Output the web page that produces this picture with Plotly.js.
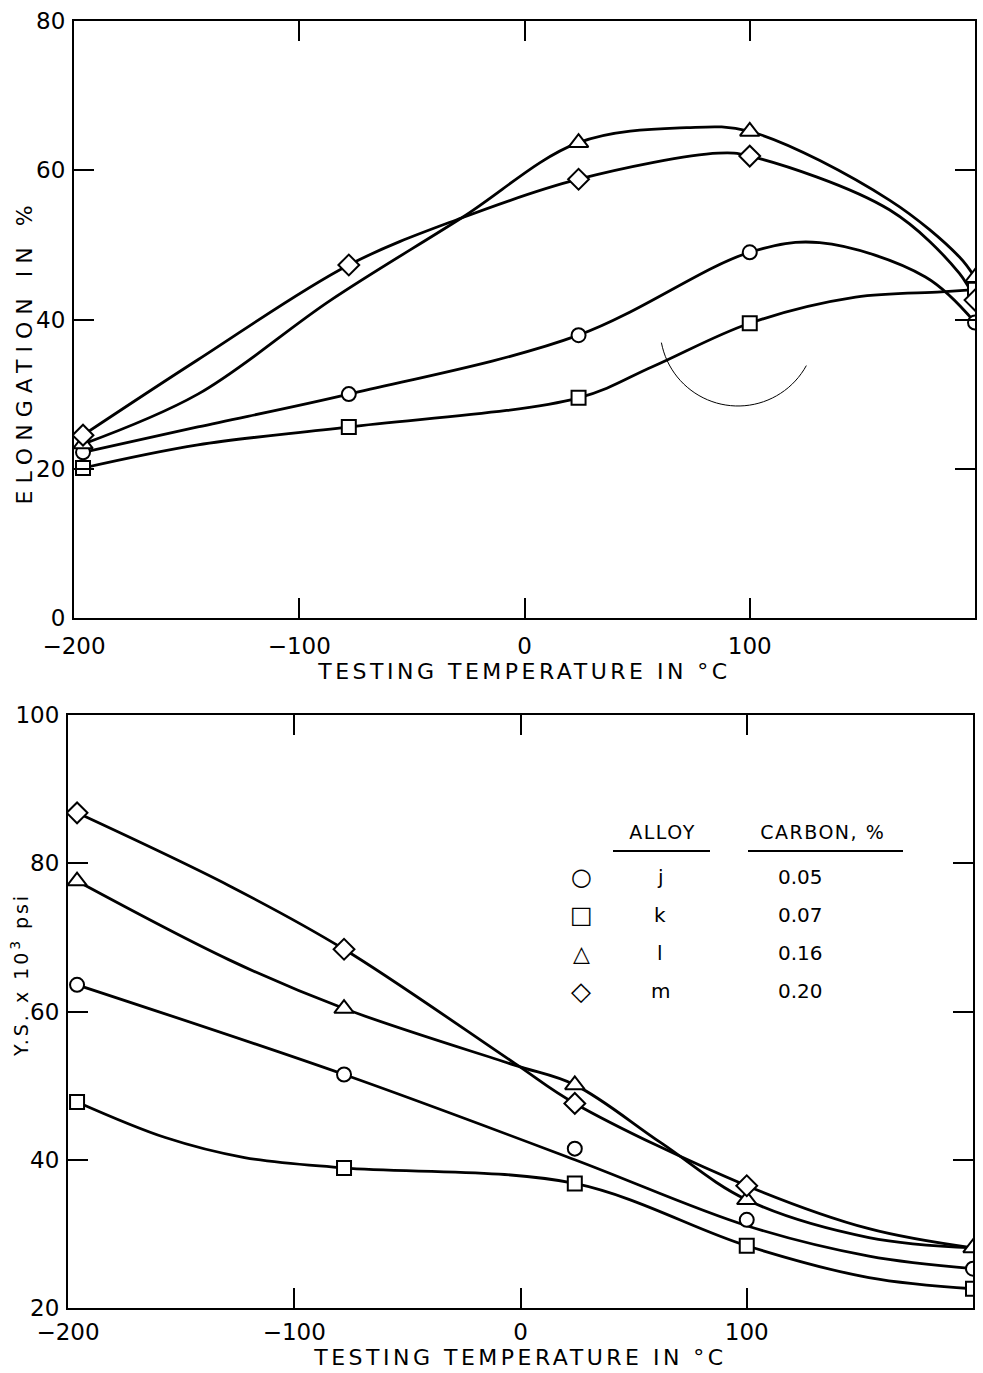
<!DOCTYPE html>
<html>
<head>
<meta charset="utf-8">
<script src="https://cdn.plot.ly/plotly-3.0.1.min.js"></script>
<style>
  html, body { margin: 0; padding: 0; background: #fff; }
  #chart { width: 983px; height: 1373px; }
  .xtitle, .x2title { letter-spacing: 3.5px; }
</style>
</head>
<body>
<div id="chart"></div>
<script>
// ---------- data: test temperatures (°C) ----------
const temps = [-196, -78, 24, 100, 200];
const tempsL = [-196, 24, 100, 200];
const tempsM_ys = [-196, -78, 24, 100];

// ---------- top panel: elongation in % (markers) ----------
const elongJ = [22.2, 30.0, 37.9, 49.0, 39.6];
const elongK = [20.1, 25.6, 29.5, 39.5, 44.0];
const elongL = [23.3, 63.7, 65.2, 45.6];
const elongM = [24.5, 47.3, 58.8, 61.9, 42.6];

// ---------- top panel: drawn fitting curves ----------
const elongCurveJx = [-196, -145, -78, 24, 100, 131, 178, 200];
const elongCurveJy = [22.2, 25.6, 30.0, 37.9, 49.0, 50.3, 45.7, 39.6];
const elongCurveKx = [-196, -145, -78, 24, 57, 100, 147, 185, 200];
const elongCurveKy = [20.1, 23.2, 25.6, 29.5, 33.7, 39.5, 43.0, 43.7, 44.0];
const elongCurveLx = [-196, -145, -86, -28, 24, 72, 100, 162, 193, 200];
const elongCurveLy = [23.3, 30.0, 42.6, 53.6, 63.7, 65.7, 65.2, 56.0, 48.4, 45.6];
const elongCurveMx = [-196, -145, -78, -28, 24, 86, 100, 162, 193, 200];
const elongCurveMy = [24.5, 34.6, 47.3, 53.6, 58.8, 62.3, 61.9, 54.7, 46.2, 42.6];

// ---------- bottom panel: Y.S. x 10^3 psi (markers) ----------
const ysJ = [63.6, 51.5, 41.5, 31.9, 25.3];
const ysK = [47.8, 38.9, 36.8, 28.4, 22.6];
const ysL = [77.6, 60.4, 50.1, 34.6, 28.1];
const ysM = [86.8, 68.4, 47.6, 36.5];

// ---------- bottom panel: drawn fitting curves ----------
const ysCurveJx = [-196, -78, 24, 100, 154, 200];
const ysCurveJy = [63.6, 51.5, 40.0, 31.1, 27.0, 25.3];
const ysCurveKx = [-196, -157, -122, -78, 24, 100, 154, 200];
const ysCurveKy = [47.8, 43.0, 40.3, 38.9, 36.8, 28.4, 24.1, 22.6];
const ysCurveLx = [-196, -129, -78, -3, 24, 62, 100, 154, 200];
const ysCurveLy = [77.6, 67.0, 60.4, 52.8, 50.1, 42.3, 34.6, 29.5, 28.1];
const ysCurveMx = [-196, -129, -78, -3, 24, 100, 154, 200];
const ysCurveMy = [86.8, 77.0, 68.4, 53.1, 47.6, 36.5, 30.7, 28.1];

// ---------- legend table ----------
const alloys = ['j', 'k', 'l', 'm'];
const carbon = ['0.05', '0.07', '0.16', '0.20'];
const legendSymbols = ['○', '□', '△', '◇'];
const markerSymbols = ['circle', 'square', 'triangle-up', 'diamond'];

// tick labels
const xTicks = [-200, -100, 0, 100, 200];
const xTickText = ['−200', '−100', '0', '100', '200'];
const yTopTicks = [0, 20, 40, 60, 80];
const yBotTicks = [20, 40, 60, 80, 100];

const FONT = 'DejaVu Sans, Liberation Sans, sans-serif';
const lineStyle = {color: '#000', width: 2.8, shape: 'spline', smoothing: 1};

function curve(x, y, xa, ya) {
  return {x: x, y: y, xaxis: xa, yaxis: ya, mode: 'lines', line: lineStyle,
          hoverinfo: 'skip', showlegend: false};
}
function marks(x, y, sym, xa, ya) {
  const size = sym === 'triangle-up' ? 17 : (sym === 'diamond' ? 16 : 14);
  return {x: x, y: y, xaxis: xa, yaxis: ya, mode: 'markers',
          marker: {symbol: sym, size: size, color: '#fff', line: {color: '#000', width: 2}},
          showlegend: false};
}

const traces = [
  curve(elongCurveJx, elongCurveJy, 'x', 'y'),
  curve(elongCurveKx, elongCurveKy, 'x', 'y'),
  curve(elongCurveLx, elongCurveLy, 'x', 'y'),
  curve(elongCurveMx, elongCurveMy, 'x', 'y'),
  marks(temps, elongJ, markerSymbols[0], 'x', 'y'),
  marks(temps, elongK, markerSymbols[1], 'x', 'y'),
  marks(tempsL, elongL, markerSymbols[2], 'x', 'y'),
  marks(temps, elongM, markerSymbols[3], 'x', 'y'),

  curve(ysCurveJx, ysCurveJy, 'x2', 'y2'),
  curve(ysCurveKx, ysCurveKy, 'x2', 'y2'),
  curve(ysCurveLx, ysCurveLy, 'x2', 'y2'),
  curve(ysCurveMx, ysCurveMy, 'x2', 'y2'),
  marks(temps, ysJ, markerSymbols[0], 'x2', 'y2'),
  marks(temps, ysK, markerSymbols[1], 'x2', 'y2'),
  marks(temps, ysL, markerSymbols[2], 'x2', 'y2'),
  marks(tempsM_ys, ysM, markerSymbols[3], 'x2', 'y2')
];

const W = 983, H = 1373;
const px = v => v / W;
const py = v => 1 - v / H;

const axisCommon = {
  showgrid: false, zeroline: false, showline: true, linecolor: '#000', linewidth: 2,
  mirror: 'ticks', ticks: 'inside', ticklen: 20, tickwidth: 2, tickcolor: '#000',
  tickfont: {family: FONT, size: 23, color: '#000'}, fixedrange: true
};

const layout = {
  width: W, height: H,
  margin: {l: 0, r: 0, t: 0, b: 0},
  paper_bgcolor: '#fff', plot_bgcolor: '#fff',
  showlegend: false,
  xaxis: Object.assign({}, axisCommon, {
    domain: [px(74), px(975)], range: [-200, 200], anchor: 'y',
    tickvals: xTicks, ticktext: xTickText, ticklabelstandoff: 6,
    title: {text: 'TESTING TEMPERATURE IN °C', font: {family: FONT, size: 22, color: '#000'}, standoff: 4}
  }),
  yaxis: Object.assign({}, axisCommon, {
    domain: [py(618), py(21)], range: [0, 80], anchor: 'x',
    tickvals: yTopTicks, ticklabelstandoff: 2
  }),
  xaxis2: Object.assign({}, axisCommon, {
    domain: [px(68), px(973)], range: [-200, 200], anchor: 'y2',
    tickvals: xTicks, ticktext: xTickText, ticklabelstandoff: 2,
    title: {text: 'TESTING TEMPERATURE IN °C', font: {family: FONT, size: 22, color: '#000'}, standoff: 0}
  }),
  yaxis2: Object.assign({}, axisCommon, {
    domain: [py(1308), py(715)], range: [20, 100], anchor: 'x2',
    tickvals: yBotTicks, ticklabelstandoff: 2
  }),
  annotations: [],
  shapes: []
};

function note(x, y, text, size, extra) {
  return Object.assign({
    xref: 'paper', yref: 'paper', x: px(x), y: py(y), text: text, showarrow: false,
    xanchor: 'center', yanchor: 'middle', font: {family: FONT, size: size, color: '#000'}
  }, extra || {});
}

// y-axis titles
layout.annotations.push(note(24, 352, 'ELONGATION IN %', 22, {textangle: -90}));
layout.annotations.push(note(20, 975, 'Y.S. x 10<sup>3</sup> psi', 19, {textangle: -90}));

// legend table (in the bottom panel)
const headerY = 832, rowY0 = 877, rowStep = 38;
const colSym = 581, colAlloy = 660, colCarbon = 800;
const symSizes = [24, 24, 22, 26];
layout.annotations.push(note(662, headerY, 'ALLOY', 19));
layout.annotations.push(note(822, headerY, 'CARBON, %', 19));
layout.shapes.push({type: 'line', xref: 'paper', yref: 'paper', x0: px(613), x1: px(710), y0: py(851), y1: py(851), line: {color: '#000', width: 2}});
layout.shapes.push({type: 'line', xref: 'paper', yref: 'paper', x0: px(748), x1: px(903), y0: py(851), y1: py(851), line: {color: '#000', width: 2}});
alloys.forEach((a, i) => {
  const yy = rowY0 + i * rowStep;
  layout.annotations.push(note(colSym, yy, legendSymbols[i], symSizes[i], {font: {family: 'DejaVu Sans', size: symSizes[i], color: '#000'}}));
  layout.annotations.push(note(colAlloy, yy, a, 20));
  layout.annotations.push(note(colCarbon, yy, carbon[i], 20));
});

// thin stray arc drawn on the original sheet (top panel)
(function () {
  const cx = 738, cy = 328, r = 78;
  const a0 = Math.PI * 0.94, a1 = Math.PI * 0.16;
  let d = '';
  const n = 40;
  for (let i = 0; i <= n; i++) {
    const a = a0 + (a1 - a0) * i / n;
    const xx = cx + r * Math.cos(a), yy = cy + r * Math.sin(a);
    d += (i === 0 ? 'M ' : ' L ') + px(xx).toFixed(5) + ',' + py(yy).toFixed(5);
  }
  layout.shapes.push({type: 'path', xref: 'paper', yref: 'paper', path: d, line: {color: '#000', width: 1}});
})();

Plotly.newPlot('chart', traces, layout, {staticPlot: true, displayModeBar: false}).then(function () {
  // widen the lettering of the rotated axis titles like the original hand lettering
  document.querySelectorAll('.annotation-text').forEach(function (t) {
    const s = t.textContent;
    if (s.indexOf('ELONGATION') === 0) t.style.letterSpacing = '7px';
    else if (s.indexOf('Y.S.') === 0) t.style.letterSpacing = '3px';
    else if (s === 'ALLOY' || s.indexOf('CARBON') === 0) t.style.letterSpacing = '1.5px';
  });
});
</script>
</body>
</html>
